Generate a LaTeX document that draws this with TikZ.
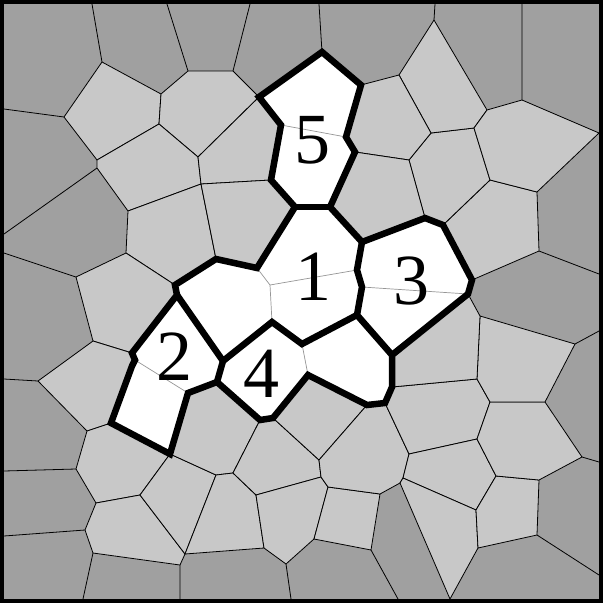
\documentclass[tikz,border=0pt]{standalone}
\usepackage{fontspec}
\setmainfont{Liberation Serif}
\definecolor{dk}{RGB}{160,160,160}
\definecolor{lt}{RGB}{200,200,200}
\definecolor{gl}{RGB}{150,150,150}
\begin{document}
\begin{tikzpicture}[x=1pt,y=-1pt,
  cell/.style={fill=lt,draw=black,line width=0.8pt,line join=round},
  edge/.style={draw=black,line width=0.8pt},
  inner/.style={draw=gl,line width=0.7pt},
  thick/.style={draw=black,line width=6.5pt,line join=miter},
  lab/.style={inner sep=0pt,font=\fontsize{72}{72}\selectfont}]
\useasboundingbox (0,0) rectangle (603,603);
\fill[black] (0,0) rectangle (603,603);
\fill[dk] (4,4) rectangle (599,599);
% coordinates
\coordinate (a1) at (92,4); \coordinate (A) at (102,62); \coordinate (G) at (64,117); \coordinate (L1) at (4,109);
\coordinate (C) at (188,71); \coordinate (T2) at (167,4); \coordinate (B) at (161,94); \coordinate (D) at (159,124);
\coordinate (F) at (97,160); \coordinate (H) at (97,168); \coordinate (T3) at (250,4); \coordinate (K) at (233,71);
\coordinate (M) at (259,97); \coordinate (T4) at (319,4); \coordinate (N) at (322,52); \coordinate (E) at (198,157);
\coordinate (V1) at (201,184); \coordinate (R) at (361,85); \coordinate (S) at (346,137); \coordinate (U) at (355,152);
\coordinate (P) at (399,75); \coordinate (T5) at (435,4); \coordinate (W) at (434,20); \coordinate (X) at (487,110);
\coordinate (T6) at (522,4); \coordinate (Y) at (522,100); \coordinate (R1) at (599,133);
\coordinate (Z) at (474,128); \coordinate (Z2) at (431,133); \coordinate (Z3) at (409,160); \coordinate (Z4) at (490,180);
\coordinate (Z5) at (537,192); \coordinate (Z7) at (539,251); \coordinate (R2) at (599,274);
\coordinate (Z8) at (480,316); \coordinate (Z9) at (575,344); \coordinate (R3) at (599,331); \coordinate (Z10) at (477,379);
\coordinate (Z11) at (545,402); \coordinate (Z12) at (490,402); \coordinate (Z13) at (582,457); \coordinate (R4) at (599,462);
\coordinate (Z14) at (539,480); \coordinate (Z15) at (496,476); \coordinate (Z16) at (477,439); \coordinate (Z17) at (409,454);
\coordinate (Z18) at (403,478); \coordinate (Z19) at (400,483); \coordinate (Z20) at (476,510); \coordinate (Z21) at (478,548);
\coordinate (Z22) at (537,535); \coordinate (R5) at (599,575); \coordinate (Bt1) at (450,599);
\coordinate (Z23) at (380,494); \coordinate (Z24) at (371,550); \coordinate (Bt2) at (398,599); \coordinate (Z25) at (328,487);
\coordinate (Z26) at (321,477); \coordinate (Z27) at (319,460); \coordinate (Z28) at (314,539); \coordinate (Z29) at (286,564);
\coordinate (Bt3) at (291,599); \coordinate (Z30) at (264,548); \coordinate (Z31) at (256,495); \coordinate (Z32) at (233,473);
\coordinate (Z33) at (216,475); \coordinate (Z34) at (185,554); \coordinate (Z35) at (180,565); \coordinate (Bt4) at (180,599);
\coordinate (Z36) at (93,553); \coordinate (Bt5) at (83,599); \coordinate (Z37) at (85,530); \coordinate (L2) at (4,536);
\coordinate (Z38) at (96,503); \coordinate (Z39) at (140,495); \coordinate (Z40) at (76,469); \coordinate (L3) at (4,471);
\coordinate (Z41) at (87,431); \coordinate (Z43) at (38,381); \coordinate (L4) at (4,379); \coordinate (Z44) at (93,341);
\coordinate (Z45) at (76,277); \coordinate (L5) at (4,253); \coordinate (Z46) at (126,253); \coordinate (Z47) at (128,211);
\coordinate (L6) at (4,234);
% white region vertices
\coordinate (Q1) at (175,285); \coordinate (Q2) at (177,295); \coordinate (J1) at (216,259); \coordinate (J2) at (257,268);
\coordinate (J3) at (270,285); \coordinate (J4) at (272,322); \coordinate (J5) at (223,361); \coordinate (J6) at (302,344);
\coordinate (J7) at (308,375); \coordinate (J8) at (367,405); \coordinate (J9) at (385,403); \coordinate (K1) at (392,387);
\coordinate (c2a) at (132,353); \coordinate (c2b) at (135,360); \coordinate (c2c) at (132,366); \coordinate (c2d) at (111,423);
\coordinate (c2e) at (170,454); \coordinate (c2f) at (188,393); \coordinate (c2g) at (217,382);
\coordinate (c4a) at (273,418); \coordinate (c4b) at (260,420);
\coordinate (c5a) at (330,207); \coordinate (c5b) at (295,207); \coordinate (c5c) at (271,180); \coordinate (c5d) at (281,125);
\coordinate (c3a) at (362,242); \coordinate (c3b) at (425,218); \coordinate (c3c) at (443,225); \coordinate (c3d) at (472,280);
\coordinate (c3e) at (468,294); \coordinate (c3f) at (392,355); \coordinate (c3g) at (357,315); \coordinate (c3h) at (362,287);
\coordinate (c3i) at (357,270);
\begin{scope}
\clip (4,4) rectangle (599,599);
% light cells
\path[cell] (A)--(B)--(D)--(F)--(G)--cycle;
\path[cell] (B)--(C)--(K)--(M)--(E)--(D)--cycle;
\path[cell] (D)--(E)--(V1)--(Z47)--(H)--(F)--cycle;
\path[cell] (Z47)--(V1)--(J1)--(Q1)--(Z46)--cycle;
\path[cell] (M)--(c5d)--(c5c)--(V1)--(E)--cycle;
\path[cell] (V1)--(c5c)--(c5b)--(J2)--(J1)--cycle;
\path[cell] (Z46)--(Q1)--(Q2)--(c2a)--(Z44)--(Z45)--cycle;
\path[cell] (Z44)--(c2a)--(c2b)--(c2c)--(c2d)--(Z41)--(Z43)--cycle;
\path[cell] (Z41)--(c2d)--(c2e)--(Z39)--(Z38)--(Z40)--cycle;
\path[cell] (Z38)--(Z39)--(Z34)--(Z35)--(Z36)--(Z37)--cycle;
\path[cell] (Z39)--(c2e)--(Z33)--(Z34)--cycle;
\path[cell] (c2e)--(c2f)--(c2g)--(c4b)--(Z32)--(Z33)--cycle;
\path[cell] (Z33)--(Z32)--(Z31)--(Z30)--(Z34)--cycle;
\path[cell] (c4b)--(c4a)--(Z27)--(Z26)--(Z31)--(Z32)--cycle;
\path[cell] (c4a)--(J7)--(J8)--(Z27)--cycle;
\path[cell] (Z31)--(Z26)--(Z25)--(Z28)--(Z29)--(Z30)--cycle;
\path[cell] (Z25)--(Z23)--(Z24)--(Z28)--cycle;
\path[cell] (Z27)--(J8)--(J9)--(Z17)--(Z18)--(Z19)--(Z23)--(Z25)--(Z26)--cycle;
\path[cell] (J9)--(K1)--(Z10)--(Z12)--(Z16)--(Z17)--cycle;
\path[cell] (Z17)--(Z16)--(Z15)--(Z20)--(Z18)--cycle;
\path[cell] (Z18)--(Z20)--(Z21)--(Bt1)--(Z19)--cycle;
\path[cell] (Z15)--(Z14)--(Z22)--(Z21)--(Z20)--cycle;
\path[cell] (Z16)--(Z12)--(Z11)--(Z13)--(Z14)--(Z15)--cycle;
\path[cell] (Z10)--(Z8)--(Z9)--(Z11)--(Z12)--cycle;
\path[cell] (c3f)--(c3e)--(Z8)--(Z10)--(K1)--cycle;
\path[cell] (c3d)--(Z7)--(Z5)--(Z4)--(c3c)--cycle;
\path[cell] (Z3)--(Z2)--(Z)--(Z4)--(c3c)--(c3b)--cycle;
\path[cell] (P)--(W)--(X)--(Z)--(Z2)--cycle;
\path[cell] (X)--(Y)--(R1)--(Z5)--(Z4)--(Z)--cycle;
\path[cell] (R)--(P)--(Z2)--(Z3)--(U)--(S)--cycle;
\path[cell] (U)--(Z3)--(c3b)--(c3a)--(c5a)--cycle;
% edges between dark cells
\draw[edge] (a1)--(A) (G)--(L1) (T2)--(C) (T3)--(K) (T4)--(N) (T5)--(W) (T6)--(Y)
  (H)--(L6) (Z45)--(L5) (Z43)--(L4) (Z40)--(L3) (Z37)--(L2) (Z36)--(Bt5) (Z35)--(Bt4)
  (Z29)--(Bt3) (Z24)--(Bt2) (Z22)--(R5) (Z13)--(R4) (Z9)--(R3) (Z7)--(R2)
  (M)--(N) (N)--(R);
\end{scope}
% white region
\fill[white] (N)--(R)--(S)--(U)--(c5a)--(c3a)--(c3b)--(c3c)--(c3d)--(c3e)--(c3f)--(K1)--(J9)--(J8)--(J7)--(c4a)--(c4b)--(c2g)--(c2f)--(c2e)--(c2d)--(c2c)--(c2b)--(c2a)--(Q2)--(Q1)--(J1)--(J2)--(c5b)--(c5c)--(c5d)--(M)--cycle;
% inner grey edges
\draw[inner] (c5d)--(S) (J2)--(J3)--(J4) (J3)--(c3i) (c3h)--(c3e) (J6)--(J7) (c2b)--(c2f);
% thick outlines
\draw[thick] (N)--(R)--(S)--(U)--(c5a)--(c3a)--(c3b)--(c3c)--(c3d)--(c3e)--(c3f)--(K1)--(J9)--(J8)--(J7)--(c4a)--(c4b)--(c2g)--(c2f)--(c2e)--(c2d)--(c2c)--(c2b)--(c2a)--(Q2)--(Q1)--(J1)--(J2)--(c5b)--(c5c)--(c5d)--(M)--cycle;
\draw[thick] (c5b)--(c5a);
\draw[thick] (c3a)--(c3i)--(c3h)--(c3g)--(c3f);
\draw[thick] (c3g)--(J6)--(J4)--(J5)--(Q2);
\draw[thick] (J5)--(c2g);
% labels
\node[lab] (n5) at (312,140) {5};
\node[lab] (n1) at (313,277) {1};
\node[lab] (n3) at (411,281) {3};
\node[lab] (n2) at (174,357) {2};
\node[lab] (n4) at (261,374) {4};
\end{tikzpicture}
\end{document}
